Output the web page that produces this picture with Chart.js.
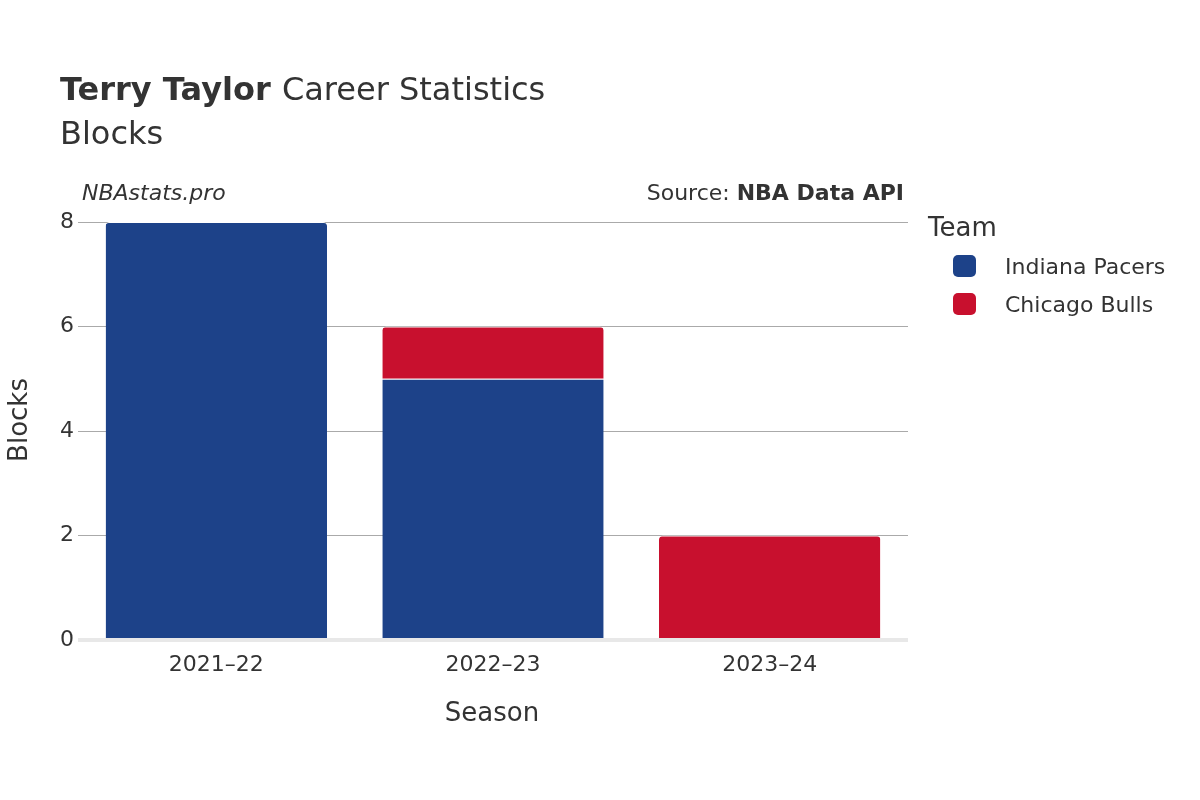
<!DOCTYPE html>
<html><head><meta charset="utf-8">
<script src="https://cdn.jsdelivr.net/npm/chart.js@4"></script>
<style>html,body{margin:0;padding:0;background:#fff}#wrap{width:1200px;height:800px}</style>
</head><body><div id="wrap"><canvas id="c" width="1200" height="800"></canvas></div>
<script>
const seasons = ["2021–22","2022–23","2023–24"];
const pacers = [8,5,0];
const bulls = [0,1,2];
const yTicks = [0,2,4,6,8];
const FONT = "'DejaVu Sans', sans-serif";
const txt = {
  id:'txt',
  afterDraw(ch){
    const c=ch.ctx; c.save(); c.fillStyle='#333'; c.textBaseline='alphabetic';
    c.font='bold 32px '+FONT; c.textAlign='left'; c.fillText('Terry Taylor',60,100);
    const w=c.measureText('Terry Taylor ').width;
    c.font='32px '+FONT; c.fillText('Career Statistics',60+w,100);
    c.fillText('Blocks',60,144);
    c.font='italic 22px '+FONT; c.fillText('NBAstats.pro',82,200);
    c.textAlign='right'; c.font='bold 22px '+FONT; c.fillText('NBA Data API',904,200);
    const bw=c.measureText('NBA Data API').width;
    c.font='22px '+FONT; c.fillText('Source: ',904-bw,200);
    c.textAlign='center'; c.font='26px '+FONT; c.fillText('Season',492,721);
    c.save(); c.translate(27,420); c.rotate(-Math.PI/2); c.fillText('Blocks',0,0); c.restore();
    c.textAlign='left'; c.font='26px '+FONT; c.fillText('Team',928,236);
    c.font='22px '+FONT;
    const items=[['Indiana Pacers','#1d4289',266],['Chicago Bulls','#c8102e',304]];
    for(const [n,col,y] of items){
      c.fillStyle=col; c.beginPath(); c.roundRect(953,y-11,23,22,5); c.fill();
      c.fillStyle='#333'; c.textBaseline='middle'; c.fillText(n,1005,y+2);
    }
    c.restore();
  }
};
new Chart(document.getElementById('c'),{
  type:'bar',
  data:{labels:seasons,datasets:[
    {label:'Indiana Pacers',data:pacers,backgroundColor:'#1d4289',borderColor:'#fff',borderWidth:{top:1},borderRadius:4,borderSkipped:'bottom',barPercentage:0.8,categoryPercentage:1},
    {label:'Chicago Bulls',data:bulls,backgroundColor:'#c8102e',borderColor:'#fff',borderWidth:{top:1},borderRadius:4,borderSkipped:'bottom',barPercentage:0.8,categoryPercentage:1}
  ]},
  options:{responsive:false,animation:false,devicePixelRatio:1,
    layout:{padding:{left:0,right:292,top:222,bottom:0}},
    plugins:{legend:{display:false},title:{display:false},tooltip:{enabled:false}},
    scales:{
      x:{stacked:true,grid:{display:false},border:{display:false},
        ticks:{color:'#333',font:{family:FONT,size:22},padding:4},
        afterFit(s){s.height=160;}},
      y:{stacked:true,min:0,max:8,afterBuildTicks(s){s.ticks=yTicks.map(v=>({value:v}));},
        grid:{color:c=>c.tick.value===0?'#e8e8e8':'#aaa',lineWidth:c=>c.tick.value===0?4:1,drawTicks:false},
        border:{display:false},
        ticks:{color:'#333',font:{family:FONT,size:22},padding:4},
        afterFit(s){s.width=78;}}
    }},
  plugins:[txt]
});
</script></body></html>
